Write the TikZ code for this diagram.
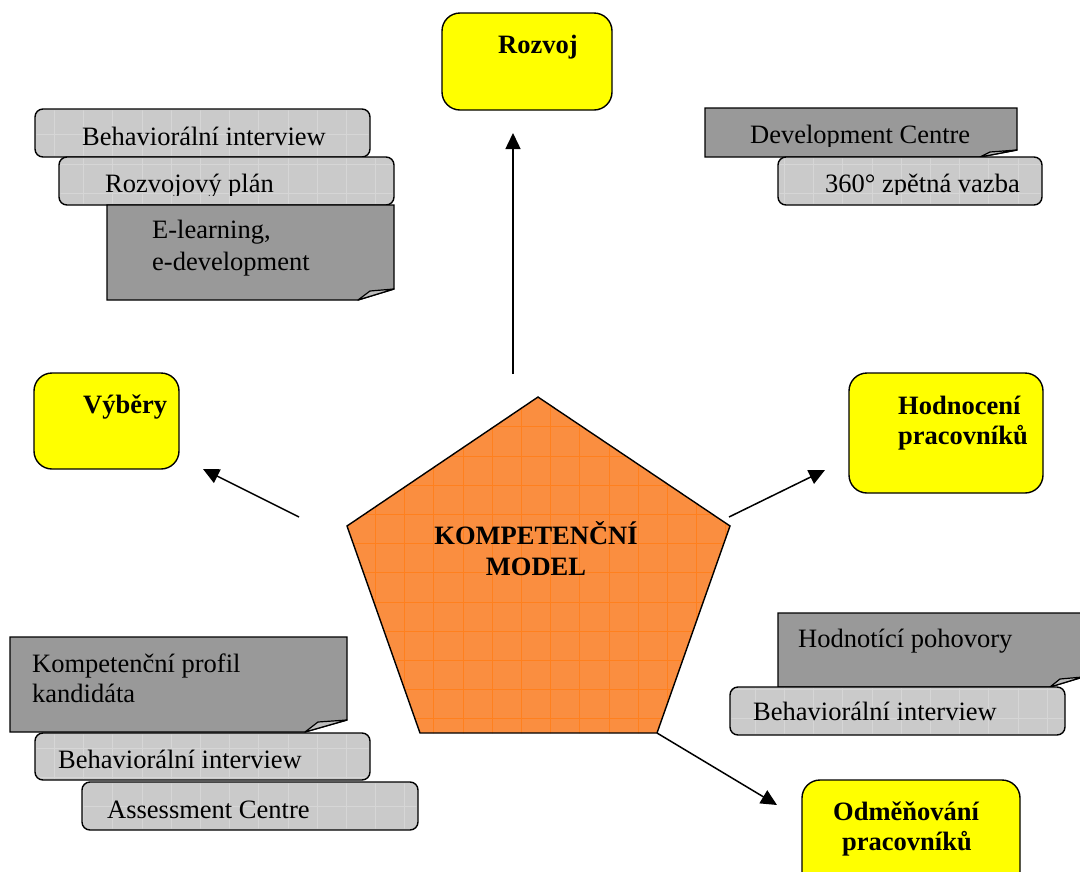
\documentclass[tikz,border=0pt]{standalone}
\usepackage{fontspec}
\setmainfont{Liberation Serif}
\usetikzlibrary{arrows.meta}
\definecolor{lightg}{RGB}{202,202,202}
\definecolor{lgl}{RGB}{214,214,214}
\definecolor{darkg}{RGB}{153,153,153}
\definecolor{foldg}{RGB}{190,190,190}
\definecolor{orng}{RGB}{250,142,64}
\definecolor{orgrid}{RGB}{255,128,30}
\definecolor{yel}{RGB}{255,255,0}
\tikzset{
  lbox/.style={draw=black, line width=1.4pt, fill=lightg, rounded corners=8pt, anchor=north west, inner sep=0pt, outer sep=0pt},
  ybox/.style={draw=black, line width=1.4pt, fill=yel, rounded corners=18pt, anchor=north west, inner sep=0pt, outer sep=0pt},
  dnote/.style={draw=black, line width=1.4pt, fill=darkg, line join=miter},
  dfold/.style={draw=black, line width=1.2pt, fill=foldg, line join=round},
  txt/.style={anchor=base west, inner sep=0pt, font=\fontsize{26.5}{31}\selectfont},
  btxt/.style={txt, font=\fontsize{26.5}{31}\selectfont\bfseries},
  arr/.style={line width=1.5pt, -{Triangle[length=16pt,width=15pt]}},
  gridline/.style={lgl, line width=0.6pt},
}
\newcommand\lightbox[5]{%
  \node[lbox, minimum width={#4-#2}, minimum height={#5-#3}] (#1) at (#2,#3) {};
  \begin{scope}
    \clip[rounded corners=6.5pt] ({#2+1.3},{#3+1.3}) rectangle ({#4-1.3},{#5-1.3});
    \foreach \gx in {25,54.2,...,1080}{\draw[gridline] (\gx,#3) -- (\gx,#5);}
    \foreach \gy in {17.9,47.1,...,871}{\draw[gridline] (#2,\gy) -- (#4,\gy);}
  \end{scope}}
\begin{document}
\begin{tikzpicture}[x=1pt,y=-1pt]
\useasboundingbox (0,0) rectangle (1080,871);
\fill[white] (0,0) rectangle (1080,871);

% ---------- yellow boxes ----------
\node[ybox, minimum width=170, minimum height=97] (rozvoj) at (442,13) {};
\node[btxt] (rozvojT) at (498,53) {Rozvoj};
\node[ybox, minimum width=145, minimum height=96] (vybery) at (34,373) {};
\node[btxt] (vyberyT) at (83,413) {Výběry};
\node[ybox, minimum width=194, minimum height=120] (hodn) at (849,373) {};
\node[btxt] (hodnT1) at (898,414) {Hodnocení};
\node[btxt] (hodnT2) at (898,444) {pracovníků};
\node[ybox, minimum width=218, minimum height=125] (odm) at (802,780) {};
\node[btxt] (odmT1) at (833,820) {Odměňování};
\node[btxt] (odmT2) at (842,850) {pracovníků};

% ---------- top-left group ----------
\lightbox{tl1}{35}{109}{370}{157}
\node[txt] (tl1T) at (82,145) {Behaviorální interview};
\lightbox{tl2}{59}{157}{394}{205}
\begin{scope}
  \clip (0,150) rectangle (1080,195.5);
  \node[txt] (tl2T) at (105,192) {Rozvojový plán};
\end{scope}
\draw[dnote] (107,205) -- (394,205) -- (394,289) -- (358,300) -- (107,300) -- cycle;
\draw[dfold] (358,300) -- (370,291) -- (394,289) -- cycle;
\node[txt] (tl3T1) at (152,238) {E-learning,};
\node[txt] (tl3T2) at (152,270) {e-development};

% ---------- top-right group ----------
\draw[dnote] (705,108) -- (1017,108) -- (1017,150) -- (980,157) -- (705,157) -- cycle;
\draw[dfold] (980,157) -- (990,152) -- (1017,150) -- cycle;
\begin{scope}
  \clip (0,100) rectangle (1080,146);
  \node[txt] (trT1) at (750,143) {Development Centre};
\end{scope}
\lightbox{tr2}{778}{157}{1042}{205}
\begin{scope}
  \clip (0,150) rectangle (1080,194);
  \node[txt] (trT2) at (825,192) {360° zpětná vazba};
\end{scope}

% ---------- bottom-left group ----------
\draw[dnote] (10,637) -- (347,637) -- (347,720) -- (305,732) -- (10,732) -- cycle;
\draw[dfold] (305,732) -- (318,722) -- (347,720) -- cycle;
\node[txt] (blT1) at (32,672) {Kompetenční profil};
\node[txt] (blT2) at (32,702) {kandidáta};
\lightbox{bl2}{35}{733}{370}{780}
\node[txt] (bl2T) at (58,768) {Behaviorální interview};
\lightbox{bl3}{82}{782}{418}{830}
\node[txt] (bl3T) at (107,818) {Assessment Centre};

% ---------- bottom-right group ----------
\draw[dnote] (778,613) -- (1083,613) -- (1083,677) -- (1050,687) -- (778,687) -- cycle;
\draw[dfold] (1050,687) -- (1060,679) -- (1083,677) -- cycle;
\node[txt] (brT1) at (798,647) {Hodnotící pohovory};
\lightbox{br2}{730}{687}{1065}{735}
\node[txt] (br2T) at (753,720) {Behaviorální interview};

% ---------- pentagon ----------
\coordinate (pT) at (538,397);
\coordinate (pR) at (730,526);
\coordinate (pBR) at (657,733);
\coordinate (pBL) at (420,733);
\coordinate (pL) at (347,526);
\fill[orng] (pT) -- (pR) -- (pBR) -- (pBL) -- (pL) -- cycle;
\begin{scope}
  \clip (pT) -- (pR) -- (pBR) -- (pBL) -- (pL) -- cycle;
  \foreach \gx in {375.3,404.5,...,740}{\draw[orgrid, line width=0.8pt] (\gx,390) -- (\gx,740);}
  \foreach \gy in {426.7,455.9,...,740}{\draw[orgrid, line width=0.8pt] (340,\gy) -- (740,\gy);}
\end{scope}
\draw[line width=1.4pt, line join=miter] (pT) -- (pR) -- (pBR) -- (pBL) -- (pL) -- cycle;
\node[btxt, anchor=base] (km1) at (536,544) {KOMPETENČNÍ};
\node[btxt, anchor=base] (km2) at (536,575) {MODEL};

% ---------- arrows ----------
\coordinate (a1s) at (513,374);
\coordinate (a1e) at (513,133);
\coordinate (a2s) at (299,517);
\coordinate (a2e) at (203,469);
\coordinate (a3s) at (729,517);
\coordinate (a3e) at (825,470);
\coordinate (a4e) at (777,805);
\draw[arr] (a1s) -- (a1e);
\draw[arr] (a2s) -- (a2e);
\draw[arr] (a3s) -- (a3e);
\draw[arr] (pBR) -- (a4e);
\end{tikzpicture}
\end{document}
